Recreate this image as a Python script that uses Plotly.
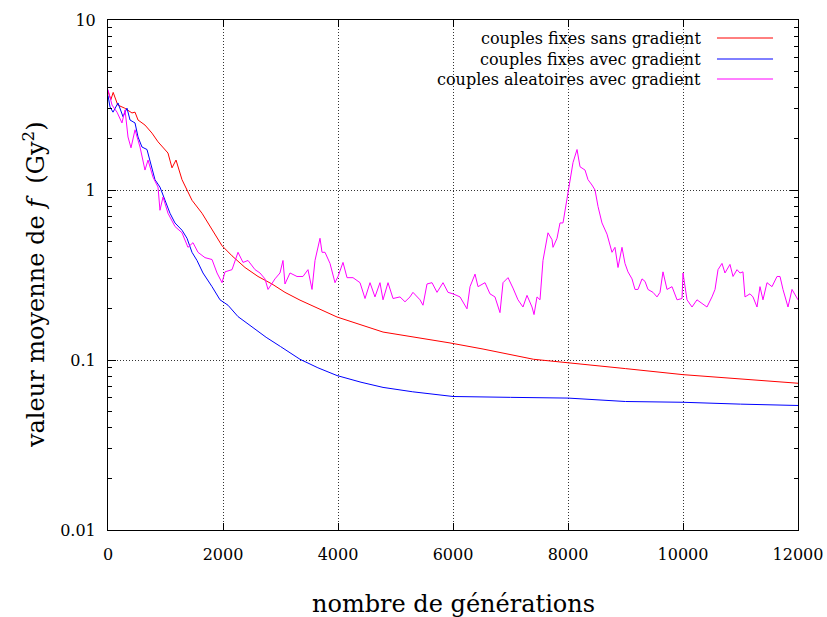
import plotly.graph_objects as go

# ---- data ----
red_x = [0, 50, 90, 170, 290, 417, 470, 522, 643, 765, 870, 957, 1043, 1113, 1183, 1287, 1374, 1461,
         1635, 1809, 1983, 2157, 2383, 2609, 2852, 3078, 3339, 3983, 4783, 5948, 6522, 7400, 8000,
         9000, 10000, 11000, 12000]
red_y = [3.8, 3.4, 3.75, 3.16, 3.03, 2.84, 2.87, 2.58, 2.41, 2.16, 1.92, 1.77, 1.65, 1.35, 1.5, 1.15, 1.0, 0.87,
         0.73, 0.58, 0.47, 0.41, 0.35, 0.31, 0.28, 0.25, 0.225, 0.179, 0.146, 0.126, 0.116, 0.101, 0.096,
         0.089, 0.082, 0.077, 0.073]

blue_x = [0, 35, 87, 174, 261, 330, 383, 470, 522, 591, 678, 765, 817, 904, 991, 1078, 1165, 1287, 1374,
          1461, 1548, 1652, 1809, 1948, 2087, 2261, 2522, 2750, 3000, 3339, 3650, 3983, 4400, 4783, 5300,
          6000, 7000, 8000, 9000, 10000, 11000, 12000]
blue_y = [3.6, 3.08, 2.87, 3.25, 2.7, 3.03, 2.58, 2.48, 2.05, 1.79, 1.73, 1.37, 1.15, 1.04, 0.87, 0.73, 0.64,
          0.58, 0.52, 0.43, 0.385, 0.325, 0.27, 0.226, 0.21, 0.18, 0.155, 0.136, 0.12, 0.101, 0.09, 0.081,
          0.074, 0.069, 0.065, 0.061, 0.0603, 0.0597, 0.057, 0.0564, 0.055, 0.054]

mag_x = [0, 70, 157, 243, 296, 348, 400, 470, 557, 643, 696, 783, 870, 904, 957, 1043, 1165, 1287, 1391,
         1478, 1565, 1687, 1809, 1896, 1983, 2035, 2157, 2261, 2348, 2435, 2557, 2643, 2730, 2783, 2904,
         2991, 3043, 3078, 3165, 3287, 3391, 3478, 3548, 3600, 3687, 3722, 3774, 3861, 3948, 4000, 4087,
         4157, 4261, 4383, 4470, 4557, 4643, 4730, 4783, 4870, 4957, 5078, 5165, 5252, 5304, 5426, 5478,
         5548, 5635, 5722, 5826, 5913, 6000, 6122, 6243, 6296, 6383, 6435, 6557, 6643, 6730, 6817, 6870,
         6957, 7043, 7130, 7217, 7287, 7374, 7409, 7461, 7513, 7565, 7652, 7722, 7739, 7809, 7861, 7913,
         7983, 8035, 8087, 8157, 8209, 8296, 8348, 8417, 8470, 8522, 8591, 8678, 8765, 8817, 8870, 8939,
         8991, 9043, 9113, 9165, 9217, 9287, 9339, 9391, 9478, 9548, 9600, 9652, 9722, 9809, 9896, 9983,
         10000, 10070, 10157, 10243, 10330, 10417, 10504, 10557, 10609, 10678, 10730, 10817, 10870, 10939,
         10991, 11043, 11078, 11165, 11217, 11287, 11339, 11391, 11461, 11548, 11635, 11687, 11739, 11826,
         11896, 12000]
mag_y = [3.9, 3.16, 2.87, 2.48, 2.96, 2.05, 1.77, 2.26, 1.79, 1.31, 1.5, 1.19, 1.04, 0.76, 0.91, 0.73, 0.61,
         0.56, 0.46, 0.49, 0.43, 0.40, 0.39, 0.325, 0.285, 0.33, 0.34, 0.43, 0.375, 0.385, 0.34, 0.325, 0.30,
         0.26, 0.30, 0.325, 0.385, 0.28, 0.325, 0.31, 0.31, 0.34, 0.26, 0.385, 0.52, 0.43, 0.43, 0.37, 0.285,
         0.31, 0.375, 0.305, 0.305, 0.285, 0.23, 0.285, 0.235, 0.285, 0.226, 0.285, 0.23, 0.235, 0.22, 0.235,
         0.25, 0.226, 0.21, 0.28, 0.285, 0.25, 0.285, 0.25, 0.245, 0.235, 0.20, 0.27, 0.32, 0.27, 0.285, 0.245,
         0.235, 0.19, 0.285, 0.305, 0.265, 0.226, 0.205, 0.24, 0.205, 0.185, 0.235, 0.226, 0.385, 0.56, 0.51,
         0.46, 0.52, 0.64, 0.64, 0.87, 1.15, 1.45, 1.73, 1.37, 1.31, 1.15, 1.07, 1.0, 0.8, 0.64, 0.55, 0.43,
         0.46, 0.35, 0.46, 0.37, 0.33, 0.30, 0.26, 0.26, 0.30, 0.29, 0.26, 0.25, 0.235, 0.25, 0.33, 0.26,
         0.27, 0.226, 0.23, 0.325, 0.226, 0.205, 0.226, 0.215, 0.205, 0.235, 0.26, 0.34, 0.37, 0.325, 0.365,
         0.31, 0.34, 0.325, 0.33, 0.235, 0.245, 0.235, 0.205, 0.27, 0.226, 0.285, 0.27, 0.31, 0.31, 0.26,
         0.205, 0.26, 0.226]

series_names = ["couples fixes sans gradient", "couples fixes avec gradient", "couples aleatoires avec gradient"]
series_colors = ["#ff0000", "#0000ff", "#ff00ff"]

x_tickvals = [0, 2000, 4000, 6000, 8000, 10000, 12000]
x_ticktext = ["0", "2000", "4000", "6000", "8000", "10000", "12000"]
y_tickvals = [0.01, 0.1, 1, 10]
y_ticktext = ["0.01", "0.1", "1", "10"]
y_minor_vals = [m * d for d in (0.01, 0.1, 1) for m in range(2, 10)]

x_title = "nombre de générations"
y_title = "valeur moyenne de <i>f</i>  (Gy<sup>2</sup>)"

FONT = "DejaVu Serif"

fig = go.Figure()
for xs, ys, name, col in zip([red_x, blue_x, mag_x], [red_y, blue_y, mag_y], series_names, series_colors):
    fig.add_trace(go.Scatter(x=xs, y=ys, mode="lines", name=name,
                             line=dict(color=col, width=1), showlegend=False))

axis_common = dict(showline=True, linecolor="black", linewidth=1, mirror="allticks",
                   ticks="inside", tickcolor="black", tickwidth=1, automargin=False,
                   showgrid=True, gridcolor="#333333", griddash="1px,2px", gridwidth=1,
                   zeroline=False, tickfont=dict(family=FONT, size=16, color="black"))

fig.update_xaxes(range=[0, 12000], tickvals=x_tickvals, ticktext=x_ticktext, ticklen=7,
                 ticklabelstandoff=10, **axis_common)
fig.update_yaxes(type="log", range=[-2, 1], tickvals=y_tickvals, ticktext=y_ticktext, ticklen=8,
                 ticklabelstandoff=8,
                 minor=dict(ticks="inside", ticklen=4, tickcolor="black", tickwidth=1,
                            tickvals=y_minor_vals, showgrid=False),
                 **axis_common)

# legend box (gnuplot style: text right, sample on right), masking grid
shapes = [dict(type="rect", xref="paper", yref="paper", x0=0.322, x1=0.998, y0=0.863, y1=0.998,
               fillcolor="white", line=dict(width=0), layer="between")]
annotations = []
rows_y = [0.9647, 0.9235, 0.8843]
for name, col, ry in zip(series_names, series_colors, rows_y):
    shapes.append(dict(type="line", xref="paper", yref="paper", x0=0.8826, x1=0.9638, y0=ry, y1=ry,
                       line=dict(color=col, width=1)))
    annotations.append(dict(text=name, xref="paper", yref="paper", x=0.8623, y=ry, xanchor="right",
                            yanchor="middle", showarrow=False,
                            font=dict(family=FONT, size=16, color="black")))

annotations.append(dict(text=x_title, xref="paper", yref="paper", x=0.5, y=0, xanchor="center",
                        yanchor="top", yshift=-58, showarrow=False,
                        font=dict(family=FONT, size=24, color="black")))
annotations.append(dict(text=y_title, xref="paper", yref="paper", x=0, y=0.5, xanchor="center",
                        yanchor="middle", xshift=-74, yshift=-10, textangle=-90, showarrow=False,
                        font=dict(family=FONT, size=24, color="black")))

fig.update_layout(width=827, height=617, margin=dict(l=108, r=29, t=20, b=87),
                  paper_bgcolor="white", plot_bgcolor="white", shapes=shapes, annotations=annotations,
                  showlegend=False)

fig.write_html("out.html")
